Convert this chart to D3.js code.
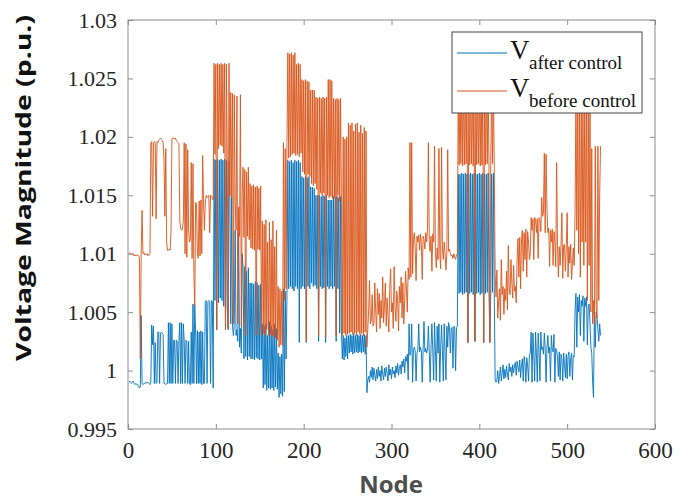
<!DOCTYPE html>
<html>
<head>
<meta charset="utf-8">
<script src="https://cdn.jsdelivr.net/npm/d3@7/dist/d3.min.js"></script>
<style>
  body { margin: 0; background: #fff; }
</style>
</head>
<body>
<div id="chart"></div>
<script>
// voltage values stored as (V - 1) * 10000, one per node starting at node 1
var after_control = [
  -10,-9,-10,-11,-10,-9,-11,-12,-11,-12,        // 1-10
  -12,-13,-15,-14,47,-11,-12,-11,-11,-10,
  -11,-10,-10,-11,-12,-10,39,22,38,-11,
  24,-11,-10,33,33,-11,32,33,32,31,
  -11,-11,-12,-11,-11,41,-11,41,-11,40,
  -11,26,26,-11,26,25,-11,26,41,-11,
  41,-11,40,26,-11,26,25,-11,25,-11,
  -12,33,-11,57,-11,56,33,-11,34,-11,
  33,-11,34,-12,33,-11,-11,59,60,-11,
  59,60,59,-11,60,59,-15,181,60,180,            // 91-100
  35,181,58,180,62,181,60,180,55,181,
  35,180,56,35,179,148,40,149,38,30,
  40,120,30,35,25,118,20,36,15,100,
  88,10,89,12,85,9,88,12,75,10,
  75,10,74,9,76,11,75,10,73,9,
  74,10,40,-15,38,-12,40,-17,30,-15,
  42,-16,38,-15,35,-17,40,-14,36,-16,
  15,-23,12,-20,14,-22,70,-18,68,10,
  65,180,70,179,72,180,70,178,68,180,
  72,179,70,180,24,178,70,166,72,165,           // 191-200
  70,166,24,165,72,166,70,157,75,157,
  72,156,73,150,70,150,25,150,72,149,
  70,150,71,149,24,150,72,146,70,146,
  72,146,70,149,72,148,25,149,70,148,
  32,149,33,10,30,9,28,12,30,10,
  30,15,31,16,30,14,32,15,30,16,
  31,15,30,16,31,15,30,16,31,14,30,-19,         // 261-272
  -8,-5,-10,0,-6,3,-8,2,-4,-9,
  1,-7,3,-5,0,-9,4,-3,-8,2,
  -5,3,-2,-9,5,-4,1,-7,3,-3,
  0,-6,4,-2,6,-4,2,5,-3,8,
  3,10,-2,12,8,14,-8,40,13,16,
  40,-10,18,20,17,-9,15,18,40,16,
  20,17,-10,18,42,16,19,15,18,38,
  16,-10,20,40,17,-8,41,18,-9,38,
  15,40,-10,20,39,17,-9,40,16,-8,
  38,20,41,37,15,36,37,2,38,36,0,37,38,         // 363-375
  168,66,168,67,169,65,168,66,169,67,
  168,24,168,66,169,67,168,65,169,25,
  168,66,168,67,169,65,168,66,169,24,
  168,66,168,67,169,65,24,66,168,67,169,65,-8,  // 406-418
  -10,-8,0,-11,-5,3,-9,-2,5,-7,
  1,-6,4,-3,-8,6,-1,3,-5,5,
  -2,4,7,-4,8,3,-1,9,-6,5,
  10,-9,12,6,-10,11,4,-9,13,15,
  33,-10,32,15,-9,33,14,-10,32,16,
  -9,33,18,20,14,32,18,-10,20,30,
  15,20,-9,30,18,16,31,-10,19,17,
  12,-5,16,-8,14,10,-9,15,5,-6,
  14,-7,12,16,-5,10,15,-8,13,12,
  52,66,20,63,50,65,30,60,55,64,25,62,          // 509-520
  55,63,22,55,57,40,20,15,-10,-23,
  52,20,50,45,35,25,40,30
];

var before_control = [
  100,101,100,99,100,100,98,99,98,99,           // 1-10
  99,98,97,10,100,137,100,101,99,100,
  99,100,98,99,100,195,196,132,195,196,
  195,130,196,195,197,198,199,198,197,195,
  180,132,190,110,103,103,104,103,120,198,
  199,199,198,199,197,196,195,194,128,122,
  120,121,128,195,100,194,97,189,120,110,
  112,178,96,177,83,55,144,143,100,96,
  145,98,146,100,184,145,120,144,150,148,
  149,150,118,150,149,148,146,263,185,262,      // 91-100
  35,263,190,262,193,263,192,262,186,263,
  35,262,184,36,263,150,238,148,237,40,
  236,145,120,235,40,140,115,236,38,150,
  174,114,172,30,170,115,174,112,160,105,
  158,104,159,103,157,30,158,104,156,103,
  158,30,128,32,125,30,129,35,110,30,
  127,31,112,29,128,30,106,28,120,26,
  72,20,70,22,68,21,195,60,190,70,
  195,272,182,271,183,272,185,270,186,272,
  184,262,185,263,183,262,186,249,170,248,      // 191-200
  168,249,25,248,168,247,166,240,160,240,
  158,240,160,234,155,233,30,234,152,233,
  150,234,152,233,28,234,150,249,148,249,
  149,248,147,233,148,232,30,233,150,232,
  145,233,146,30,200,32,198,30,200,31,
  212,32,210,33,212,31,205,32,211,30,
  212,33,204,31,210,32,203,30,208,33,205,20,    // 261-272
  35,52,77,40,43,65,38,40,75,50,
  33,70,48,66,36,60,45,80,41,55,
  75,38,62,47,33,70,87,50,58,36,
  89,55,42,68,60,34,72,58,80,45,
  75,40,60,85,70,50,88,78,195,80,
  195,83,112,118,105,77,115,110,116,103,
  117,108,78,115,112,104,118,110,120,195,
  110,102,115,85,117,110,192,101,88,105,
  95,190,100,87,191,103,95,110,100,86,
  100,189,102,104,100,98,99,96,100,97,95,99,100, // 363-375
  245,176,245,177,246,175,245,176,246,177,
  245,24,246,176,245,177,246,175,245,25,
  246,176,245,177,246,175,245,176,246,24,
  245,176,246,177,245,175,24,176,245,177,246,175,83, // 406-418
  63,86,45,60,70,43,95,65,72,48,
  70,60,85,52,107,70,65,95,75,62,
  90,68,72,58,95,113,80,114,70,112,
  120,85,118,95,121,80,119,110,95,100,
  131,120,130,95,131,129,118,130,96,131,
  130,119,148,132,135,186,118,185,140,118,
  122,89,120,110,121,90,119,111,89,178,
  107,80,106,90,108,135,79,107,108,85,
  107,135,80,106,92,108,78,91,105,90,
  135,234,120,233,100,235,80,232,110,234,90,233, // 509-520
  110,234,60,233,90,232,50,190,40,60,
  40,192,55,45,192,60,150,192
];

var xTicks = [0, 100, 200, 300, 400, 500, 600];
var yTicks = [0.995, 1, 1.005, 1.01, 1.015, 1.02, 1.025, 1.03];
var seriesNames = ["after control", "before control"];
var seriesColors = ["#0072BD", "#D95319"];

var serif = "'Liberation Serif', 'Times New Roman', serif";

var W = 679, H = 501;
var margin = { top: 20, right: 24, bottom: 72, left: 128 },
  width = W - margin.left - margin.right,
  height = H - margin.top - margin.bottom;

var svg = d3.select("#chart")
  .append("svg")
  .attr("width", W)
  .attr("height", H)
  .style("background", "#fff");

var g = svg.append("g")
  .attr("transform", "translate(" + margin.left + "," + margin.top + ")");

var x = d3.scaleLinear().domain([0, 600]).range([0, width]);
var y = d3.scaleLinear().domain([0.995, 1.03]).range([height, 0]);

function toSeries(arr) {
  return arr.map(function (d, i) { return { node: i + 1, v: 1 + d / 10000 }; });
}

var line = d3.line()
  .x(function (d) { return x(d.node); })
  .y(function (d) { return y(d.v); });

svg.append("defs").append("clipPath").attr("id", "plotclip")
  .append("rect").attr("width", width).attr("height", height);

var plot = g.append("g").attr("clip-path", "url(#plotclip)");

[after_control, before_control].forEach(function (arr, k) {
  plot.append("path")
    .datum(toSeries(arr))
    .attr("fill", "none")
    .attr("stroke", seriesColors[k])
    .attr("stroke-width", 0.9)
    .attr("stroke-linejoin", "round")
    .attr("d", line);
});

// axes, MATLAB style: ticks inside, box on
var axisCol = "#8c8c8c";
var tickLen = 5;

var xAxis = g.append("g")
  .attr("font-family", null)
  .call(d3.axisBottom(x).tickValues(xTicks).tickSize(-tickLen).tickPadding(13)
    .tickFormat(d3.format("d")))
  .attr("transform", "translate(0," + height + ")");
xAxis.select(".domain").remove();
xAxis.selectAll("line").attr("stroke", axisCol);
xAxis.selectAll("text")
  .style("font-family", serif)
  .style("font-size", "23px")
  .attr("fill", "#262626");

var xTop = g.append("g")
  .call(d3.axisTop(x).tickValues(xTicks).tickSize(-tickLen).tickFormat(""));
xTop.select(".domain").remove();
xTop.selectAll("line").attr("stroke", axisCol);

var yAxis = g.append("g")
  .call(d3.axisLeft(y).tickValues(yTicks).tickSize(-tickLen).tickPadding(11)
    .tickFormat(function (d) { return String(+d.toFixed(3)); }));
yAxis.select(".domain").remove();
yAxis.selectAll("line").attr("stroke", axisCol);
yAxis.selectAll("text")
  .style("font-family", serif)
  .style("font-size", "22px")
  .attr("fill", "#262626");

var yRight = g.append("g")
  .attr("transform", "translate(" + width + ",0)")
  .call(d3.axisRight(y).tickValues(yTicks).tickSize(-tickLen).tickFormat(""));
yRight.select(".domain").remove();
yRight.selectAll("line").attr("stroke", axisCol);

g.append("rect")
  .attr("width", width)
  .attr("height", height)
  .attr("fill", "none")
  .attr("stroke", axisCol)
  .attr("stroke-width", 1);

// axis titles
svg.append("text")
  .attr("x", 391)
  .attr("y", 493)
  .attr("text-anchor", "middle")
  .attr("font-family", "'Open Sans', sans-serif")
  .attr("font-weight", "bold")
  .attr("font-size", 24)
  .attr("fill", "#4d4d4d")
  .text("Node");

svg.append("text")
  .attr("transform", "translate(31,188) rotate(-90)")
  .attr("text-anchor", "middle")
  .attr("font-family", "'Open Sans', sans-serif")
  .attr("font-weight", "bold")
  .attr("font-size", 21)
  .attr("textLength", 346)
  .attr("lengthAdjust", "spacingAndGlyphs")
  .attr("fill", "#111")
  .text("Voltage Magnitude (p.u.)");

// legend
var lg = svg.append("g").attr("transform", "translate(452,32)");
lg.append("rect")
  .attr("width", 190)
  .attr("height", 81)
  .attr("fill", "#fff")
  .attr("stroke", "#444")
  .attr("stroke-width", 1);

seriesNames.forEach(function (name, k) {
  var ly = 21 + k * 38;
  lg.append("line")
    .attr("x1", 5).attr("x2", 55)
    .attr("y1", ly).attr("y2", ly)
    .attr("stroke", seriesColors[k])
    .attr("stroke-width", 1);
  lg.append("text")
    .attr("x", 58)
    .attr("y", ly + 6)
    .style("font-family", serif)
    .style("font-size", "27px")
    .attr("fill", "#111")
    .text("V");
  lg.append("text")
    .attr("x", 77)
    .attr("y", ly + 16)
    .style("font-family", serif)
    .style("font-size", "19px")
    .attr("fill", "#111")
    .text(name);
});
</script>
</body>
</html>
